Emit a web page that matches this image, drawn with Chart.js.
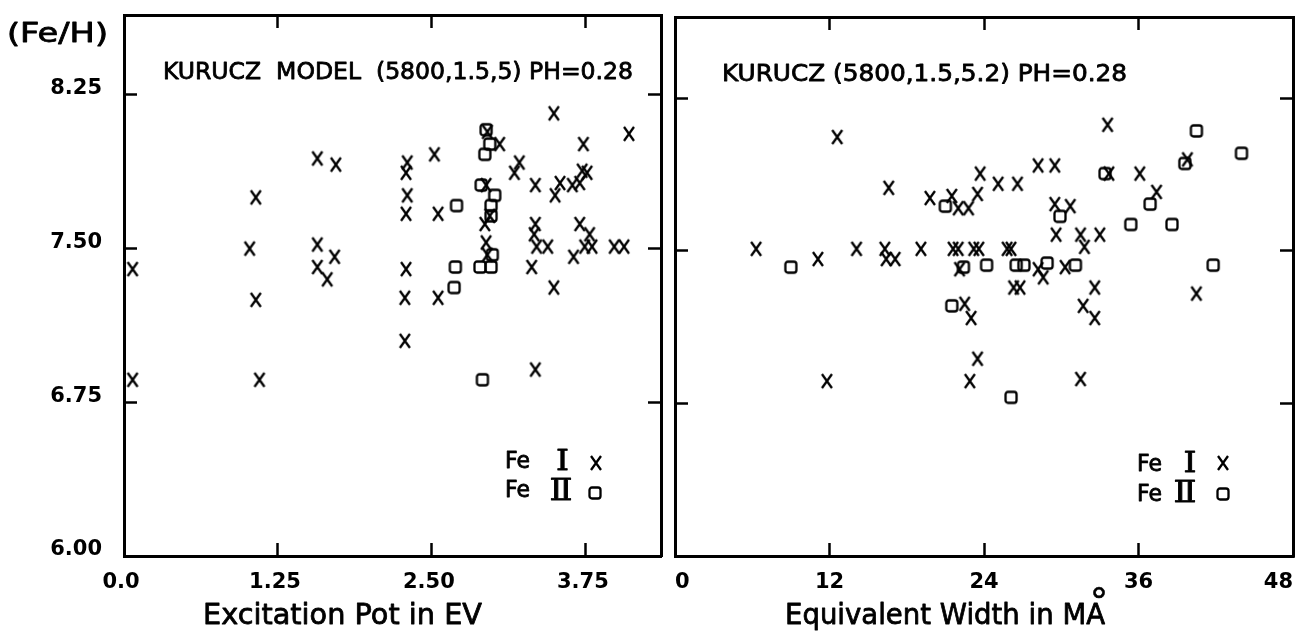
<!DOCTYPE html>
<html><head><meta charset="utf-8">
<script src="https://cdn.jsdelivr.net/npm/chart.js@4.4.1/dist/chart.umd.min.js"></script>
<style>
html,body{margin:0;padding:0;background:#fff;width:1300px;height:634px;overflow:hidden}
canvas{position:absolute;top:0}
#c1{left:0}
#c2{left:668px}
</style></head>
<body>
<canvas id="c1" width="668" height="634"></canvas>
<canvas id="c2" width="632" height="634"></canvas>
<script>
// ---------- DATA ----------
// Left panel: Excitation potential (eV) vs log abundance
const epFeIx = [0.07,0.07,1.02,1.07,1.07,1.10,1.57,1.72,1.57,1.57,1.71,1.65,2.28,2.28,2.29,2.29,2.30,2.29,2.30,2.52,2.55,2.55,2.95,3.05,2.94,2.97,2.93,2.94,2.95,3.21,3.17,3.34,3.34,3.33,3.35,3.44,3.31,3.34,3.49,3.49,3.50,3.54,3.65,3.64,3.70,3.72,3.76,3.73,3.70,3.78,3.74,3.80,3.98,4.06,4.10];
const epFeIy = [7.40,6.86,7.50,7.75,7.25,6.86,7.94,7.91,7.52,7.41,7.46,7.35,7.05,7.26,7.40,7.67,7.76,7.87,7.92,7.96,7.67,7.26,8.07,8.01,7.81,7.66,7.62,7.53,7.47,7.92,7.87,7.81,7.62,7.57,7.51,7.51,7.41,6.91,8.16,7.31,7.76,7.82,7.46,7.81,7.82,7.88,7.87,8.01,7.62,7.57,7.51,7.51,7.51,7.51,8.06];
const epFeIIx = [2.94,2.97,2.93,2.90,3.01,2.98,2.98,2.70,2.99,2.89,2.98,2.69,2.68,2.91];
const epFeIIy = [8.08,8.01,7.96,7.81,7.76,7.71,7.66,7.71,7.47,7.41,7.41,7.41,7.31,6.86];

// Right panel: Equivalent width (mA) vs log abundance
const ewFeIx = [12.6,16.6,19.8,21.5,22.0,22.8,23.5,23.7,6.3,11.1,14.1,16.3,16.4,17.1,19.1,21.6,22.0,23.2,23.6,25.8,26.1,22.1,22.5,23.0,23.5,22.9,11.8,33.6,33.7,36.1,37.4,39.8,28.2,29.5,25.1,26.6,29.5,30.7,29.6,31.5,31.8,33.0,28.2,30.3,28.6,26.3,26.8,32.6,31.7,32.6,40.5,31.5];
const ewFeIy = [8.06,7.81,7.76,7.77,7.71,7.71,7.78,7.88,7.51,7.46,7.51,7.51,7.46,7.46,7.51,7.51,7.51,7.51,7.51,7.51,7.51,7.41,7.24,7.17,6.97,6.86,6.86,8.12,7.88,7.88,7.79,7.95,7.92,7.92,7.83,7.83,7.73,7.72,7.58,7.58,7.52,7.58,7.41,7.42,7.37,7.32,7.32,7.32,7.23,7.17,7.29,6.87];
const ewFeIIx = [21.0,9.0,22.4,24.2,21.5,40.5,44.0,39.6,33.4,36.9,35.4,38.6,29.9,26.5,27.1,28.9,31.1,41.8,26.1];
const ewFeIIy = [7.72,7.42,7.42,7.43,7.23,8.09,7.98,7.93,7.88,7.73,7.63,7.63,7.67,7.43,7.43,7.44,7.43,7.43,6.78];

// Ticks
const yTicks = [6.00, 6.75, 7.50, 8.25];
const yTickLabels = ['6.00', '6.75', '7.50', '8.25'];
const epTicks = [0, 1.25, 2.50, 3.75];
const epTickLabels = ['0.0', '1.25', '2.50', '3.75'];
const ewTicks = [0, 12, 24, 36, 48];
const ewTickLabels = ['0', '12', '24', '36', '48'];

// Texts
const yTitle = '(Fe/H)';
const leftHeader = 'KURUCZ  MODEL  (5800,1.5,5) PH=0.28';
const rightHeader = 'KURUCZ (5800,1.5,5.2) PH=0.28';
const leftXTitle = 'Excitation Pot in EV';
const rightXTitle = 'Equivalent Width in MA';
const legendNames = ['Fe', 'Ⅰ', 'Ⅱ'];

// ---------- MARKERS ----------
function makeX() {
  const c = document.createElement('canvas'); c.width = 14; c.height = 18;
  const g = c.getContext('2d');
  g.strokeStyle = '#000'; g.lineWidth = 2.3;
  g.beginPath(); g.moveTo(2, 2); g.lineTo(12, 16); g.moveTo(12, 2); g.lineTo(2, 16); g.stroke();
  return c;
}
function makeSq() {
  const c = document.createElement('canvas'); c.width = 16; c.height = 16;
  const g = c.getContext('2d');
  g.strokeStyle = '#000'; g.lineWidth = 2.3;
  g.beginPath();
  if (g.roundRect) g.roundRect(2.5, 2.5, 11, 11, 2.5); else g.rect(2.5, 2.5, 11, 11);
  g.stroke();
  return c;
}
const markX = makeX();
const markSq = makeSq();

const FONT = '"DejaVu Sans", "Liberation Sans", sans-serif';
const SERIF = '"DejaVu Serif", "Liberation Serif", serif';
const pts = (xs, ys) => xs.map((x, i) => ({x: x, y: ys[i]}));

function drawFit(ctx, text, x, baseline, width, size, align, family, stroke) {
  ctx.save();
  ctx.font = size + 'px ' + (family || FONT);
  ctx.fillStyle = '#000';
  ctx.strokeStyle = '#000';
  ctx.lineWidth = stroke === undefined ? 0.8 : stroke;
  ctx.lineJoin = 'round';
  ctx.textBaseline = 'alphabetic';
  ctx.textAlign = align === 'center' ? 'center' : 'left';
  const w = ctx.measureText(text).width;
  ctx.translate(x, baseline);
  if (width) ctx.scale(width / w, 1);
  ctx.fillText(text, 0, 0);
  if (ctx.lineWidth > 0) ctx.strokeText(text, 0, 0);
  ctx.restore();
}
function drawMark(ctx, img, cx, cy) {
  ctx.drawImage(img, Math.round(cx - img.width / 2), Math.round(cy - img.height / 2));
}

const gridOpt = {display: true, drawOnChartArea: false, drawTicks: true, tickLength: -13, tickWidth: 2.5, tickColor: '#000', lineWidth: 1};
const borderOpt = {display: true, color: '#000', width: 3};
const tickFont = {family: 'DejaVu Sans', size: 21, weight: 'bold'};

function setTicks(vals) { return s => { s.ticks = vals.map(v => ({value: v})); }; }
function fixSize(dim, val) {
  return s => {
    s[dim] = val;
    s.paddingTop = 0; s.paddingBottom = 0; s.paddingLeft = 0; s.paddingRight = 0;
  };
}

function baseOptions(pad, yW, xMin, xMax, xTicks, xLabels, xTopTicks, yMax, showY, xAlign, xOffset) {
  return {
    responsive: false, animation: false, events: [], devicePixelRatio: 1,
    layout: {padding: pad},
    plugins: {legend: {display: false}, tooltip: {enabled: false}, title: {display: false}},
    scales: {
      x: {type: 'linear', position: 'bottom', min: xMin, max: xMax,
        afterFit: fixSize('height', 78), afterBuildTicks: setTicks(xTicks),
        ticks: {callback: (v, i) => xLabels[i], font: tickFont, color: '#000', padding: 27, labelOffset: xOffset, maxRotation: 0, minRotation: 0, autoSkip: false, align: xAlign},
        grid: gridOpt, border: borderOpt},
      x2: {type: 'linear', position: 'top', min: xMin, max: xMax,
        afterFit: fixSize('height', 0), afterBuildTicks: setTicks(xTopTicks),
        ticks: {display: false}, grid: gridOpt, border: borderOpt},
      y: {type: 'linear', position: 'left', min: 6, max: yMax,
        afterFit: fixSize('width', yW), afterBuildTicks: setTicks(yTicks),
        ticks: {display: showY, callback: (v, i) => yTickLabels[i], font: tickFont, color: '#000', padding: 35, labelOffset: -6, autoSkip: false},
        grid: gridOpt, border: borderOpt},
      y2: {type: 'linear', position: 'right', min: 6, max: yMax,
        afterFit: fixSize('width', 0), afterBuildTicks: setTicks([6.75, 7.50, 8.25]),
        ticks: {display: false}, grid: gridOpt, border: borderOpt}
    }
  };
}

function datasets(fx, fy, sx, sy) {
  return [
    {label: 'Fe I', data: pts(fx, fy), pointStyle: markX, pointRadius: 6, borderColor: '#000', backgroundColor: '#000', showLine: false},
    {label: 'Fe II', data: pts(sx, sy), pointStyle: markSq, pointRadius: 6, borderColor: '#000', backgroundColor: '#000', showLine: false}
  ];
}

// ---------- LEFT CHART ----------
const leftTexts = {
  id: 'leftTexts',
  afterDraw(chart) {
    const ctx = chart.ctx;
    drawFit(ctx, yTitle, 7, 42, 101, 26);
    drawFit(ctx, leftHeader, 163, 79, 470, 23);
    drawFit(ctx, leftXTitle, 203, 624, 279, 29);
    drawFit(ctx, legendNames[0], 505, 468, 25, 23);
    drawFit(ctx, legendNames[1], 562.5, 470, 13, 27, 'center', SERIF);
    drawMark(ctx, markX, 596, 463);
    drawFit(ctx, legendNames[0], 505, 497, 25, 23);
    drawFit(ctx, legendNames[2], 561, 500, 23, 29, 'center', SERIF);
    drawMark(ctx, markSq, 595, 493);
  }
};
new Chart(document.getElementById('c1'), {
  type: 'scatter',
  data: {datasets: datasets(epFeIx, epFeIy, epFeIIx, epFeIIy)},
  options: baseOptions({left: 0, right: 3, top: 15, bottom: 0}, 124, 0, 4.36, epTicks, epTickLabels, [1.25, 2.50, 3.75], 8.64, true, 'center', -3),
  plugins: [leftTexts]
});

// ---------- RIGHT CHART ----------
const OX = 668;
const rightTexts = {
  id: 'rightTexts',
  afterDraw(chart) {
    const ctx = chart.ctx;
    drawFit(ctx, rightHeader, 722 - OX, 81, 405, 23);
    drawFit(ctx, rightXTitle, 785 - OX, 624, 320, 29);
    drawFit(ctx, '°', 1099 - OX, 613, null, 36, 'center', FONT, 0.6);
    drawFit(ctx, legendNames[0], 1137 - OX, 471, 25, 23);
    drawFit(ctx, legendNames[1], 1190 - OX, 472, 13, 27, 'center', SERIF);
    drawMark(ctx, markX, 1223 - OX, 463);
    drawFit(ctx, legendNames[0], 1137 - OX, 501, 25, 23);
    drawFit(ctx, legendNames[2], 1185 - OX, 502, 23, 29, 'center', SERIF);
    drawMark(ctx, markSq, 1223 - OX, 494);
  }
};
new Chart(document.getElementById('c2'), {
  type: 'scatter',
  data: {datasets: datasets(ewFeIx, ewFeIy, ewFeIIx, ewFeIIy)},
  options: baseOptions({left: 0, right: 6, top: 17, bottom: 0}, 7, 0, 48, ewTicks, ewTickLabels, [12, 24, 36], 8.65, false, 'inner', 0),
  plugins: [rightTexts]
});
</script>
</body></html>
